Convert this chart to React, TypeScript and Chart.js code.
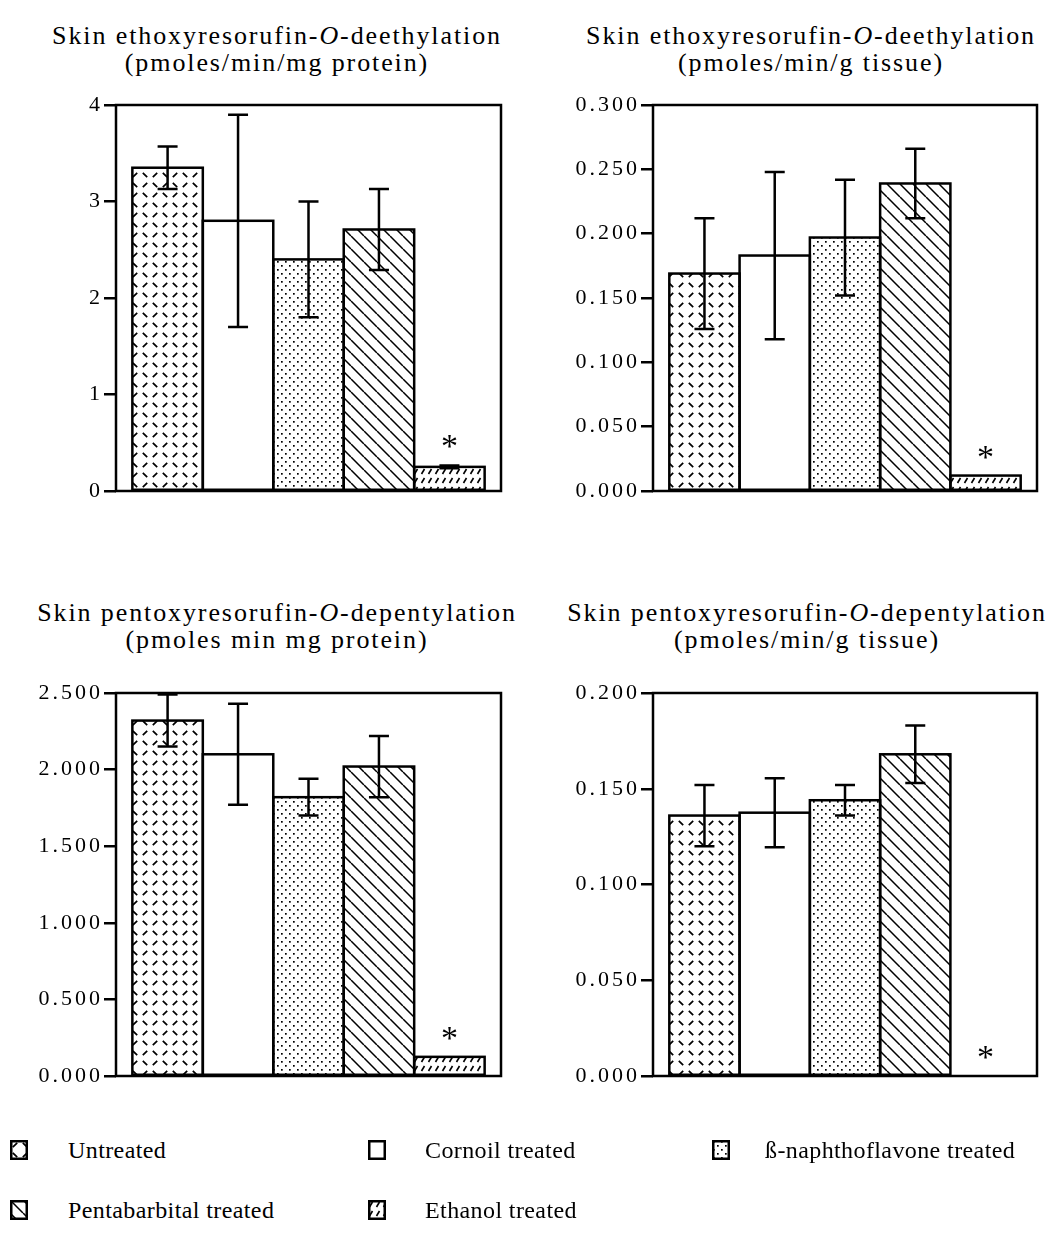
import React, { useEffect, useRef } from 'react';
import { Chart, registerables } from 'chart.js';

Chart.register(...registerables);

// ---------- data ----------
const TREATMENTS = [
  'Untreated',
  'Cornoil treated',
  'ß-naphthoflavone treated',
  'Pentabarbital treated',
  'Ethanol treated',
];
const PATTERN_KINDS = ['herring', 'blank', 'dots', 'diagonal', 'ethanol'];
const SIGNIFICANT = [false, false, false, false, true];

const EROD_PROTEIN_MEAN = [3.35, 2.8, 2.4, 2.71, 0.25];
const EROD_PROTEIN_ERR = [0.22, 1.1, 0.6, 0.42, 0.015];
const EROD_PROTEIN_TICKS = [0, 1, 2, 3, 4];
const EROD_PROTEIN_TICK_LABELS = ['0', '1', '2', '3', '4'];

const EROD_TISSUE_MEAN = [0.169, 0.183, 0.197, 0.239, 0.012];
const EROD_TISSUE_ERR = [0.043, 0.065, 0.045, 0.027, 0];
const EROD_TISSUE_TICKS = [0, 0.05, 0.1, 0.15, 0.2, 0.25, 0.3];
const EROD_TISSUE_TICK_LABELS = ['0.000', '0.050', '0.100', '0.150', '0.200', '0.250', '0.300'];

const PROD_PROTEIN_MEAN = [2.32, 2.1, 1.82, 2.02, 0.125];
const PROD_PROTEIN_ERR = [0.17, 0.33, 0.12, 0.2, 0];
const PROD_PROTEIN_TICKS = [0, 0.5, 1, 1.5, 2, 2.5];
const PROD_PROTEIN_TICK_LABELS = ['0.000', '0.500', '1.000', '1.500', '2.000', '2.500'];

const PROD_TISSUE_MEAN = [0.136, 0.1375, 0.144, 0.168, 0];
const PROD_TISSUE_ERR = [0.016, 0.018, 0.008, 0.015, 0];
const PROD_TISSUE_TICKS = [0, 0.05, 0.1, 0.15, 0.2];
const PROD_TISSUE_TICK_LABELS = ['0.000', '0.050', '0.100', '0.150', '0.200'];

const SERIF = '"Liberation Serif", "Times New Roman", serif';

// ---------- patterns ----------
function makePattern(kind: string): CanvasPattern | string {
  if (kind === 'blank') return '#ffffff';
  const c = document.createElement('canvas');
  let w = 20, h = 20;
  if (kind === 'dots') { w = 8; h = 8; }
  if (kind === 'diagonal') { w = 13; h = 13; }
  if (kind === 'ethanol') { w = 7; h = 9; }
  c.width = w; c.height = h;
  const ctx = c.getContext('2d')!;
  ctx.fillStyle = '#ffffff';
  ctx.fillRect(0, 0, w, h);
  ctx.strokeStyle = '#000';
  ctx.fillStyle = '#000';
  ctx.lineCap = 'butt';
  if (kind === 'herring') {
    ctx.lineWidth = 1.7;
    const d = 2.2;
    ctx.beginPath();
    ctx.moveTo(5 - d, 5 + d); ctx.lineTo(5 + d, 5 - d);
    ctx.moveTo(15 - d, 5 - d); ctx.lineTo(15 + d, 5 + d);
    ctx.moveTo(5 - d, 15 - d); ctx.lineTo(5 + d, 15 + d);
    ctx.moveTo(15 - d, 15 + d); ctx.lineTo(15 + d, 15 - d);
    ctx.stroke();
  } else if (kind === 'dots') {
    ctx.fillRect(1, 1, 1.7, 1.7);
    ctx.fillRect(5, 5, 1.7, 1.7);
  } else if (kind === 'diagonal') {
    ctx.lineWidth = 1.5;
    ctx.beginPath();
    for (const k of [-13, 0, 13]) {
      ctx.moveTo(k, 0); ctx.lineTo(k + 13, 13);
    }
    ctx.stroke();
  } else if (kind === 'ethanol') {
    ctx.lineWidth = 1.6;
    ctx.beginPath();
    ctx.moveTo(1.5, 7); ctx.lineTo(4.5, 2);
    ctx.stroke();
  }
  return ctx.createPattern(c, 'repeat')!;
}

// ---------- panel ----------
type PanelProps = {
  mean: number[];
  err: number[];
  ticks: number[];
  tickLabels: string[];
  left: number;
  top: number;
  width: number;
  height: number;
  axisWidth: number;
  padTop: number;
  padRight: number;
  padBottom: number;
};

function Panel(p: PanelProps) {
  const ref = useRef<HTMLCanvasElement | null>(null);
  useEffect(() => {
    if (!ref.current) return;
    const patterns = PATTERN_KINDS.map(makePattern);
    const overlay = {
      id: 'overlay',
      beforeDraw(chart: any) {
        chart.ctx.letterSpacing = '3px';
      },
      afterDatasetsDraw(chart: any) {
        const ctx = chart.ctx as CanvasRenderingContext2D;
        const y = chart.scales.y;
        ctx.save();
        ctx.letterSpacing = '0px';
        ctx.strokeStyle = '#000';
        ctx.fillStyle = '#000';
        chart.data.datasets.forEach((ds: any, i: number) => {
          const el: any = chart.getDatasetMeta(i).data[0];
          if (!el) return;
          const v = ds.data[0] as number;
          const half = el.width / 2;
          if (v > 0) {
            ctx.lineWidth = 2.5;
            ctx.strokeRect(el.x - half, el.y, el.width, el.base - el.y);
          }
          const e = p.err[i];
          if (e > 0) {
            const yt = y.getPixelForValue(v + e);
            const yb = y.getPixelForValue(v - e);
            ctx.lineWidth = 2.5;
            ctx.beginPath();
            ctx.moveTo(el.x, yt); ctx.lineTo(el.x, yb);
            ctx.moveTo(el.x - 10, yt); ctx.lineTo(el.x + 10, yt);
            ctx.moveTo(el.x - 10, yb); ctx.lineTo(el.x + 10, yb);
            ctx.stroke();
          }
          if (SIGNIFICANT[i]) {
            const yTop = y.getPixelForValue(v + e);
            ctx.font = `34px ${SERIF}`;
            ctx.textAlign = 'center';
            ctx.textBaseline = 'alphabetic';
            ctx.fillText('*', el.x, yTop - 8);
          }
        });
        ctx.restore();
      },
      afterDraw(chart: any) {
        const ctx = chart.ctx as CanvasRenderingContext2D;
        const a = chart.chartArea;
        ctx.save();
        ctx.strokeStyle = '#000';
        ctx.lineWidth = 2.5;
        ctx.strokeRect(a.left, a.top, a.right - a.left, a.bottom - a.top);
        ctx.restore();
      },
    };
    const chart = new Chart(ref.current, {
      type: 'bar',
      data: {
        labels: [''],
        datasets: TREATMENTS.map((t, i) => ({
          label: t,
          data: [p.mean[i]],
          backgroundColor: patterns[i] as any,
          borderWidth: 0,
          categoryPercentage: 0.915,
          barPercentage: 1,
        })),
      },
      options: {
        animation: false,
        responsive: false,
        devicePixelRatio: 1,
        layout: { padding: { top: p.padTop, right: p.padRight, bottom: p.padBottom, left: 0 } },
        plugins: {
          legend: { display: false },
          tooltip: { enabled: false },
          title: { display: false },
        },
        scales: {
          x: { display: false },
          y: {
            min: p.ticks[0],
            max: p.ticks[p.ticks.length - 1],
            afterBuildTicks: (s: any) => {
              s.ticks = p.ticks.map((v) => ({ value: v }));
            },
            afterFit: (s: any) => {
              s.width = p.axisWidth;
            },
            ticks: {
              callback: (_v: any, idx: number) => p.tickLabels[idx],
              color: '#000',
              padding: 1,
              font: { family: SERIF, size: 22 },
            },
            grid: {
              drawOnChartArea: false,
              drawTicks: true,
              tickLength: 12,
              lineWidth: 2.5,
              color: '#000',
            },
            border: { display: false },
          },
        },
      },
      plugins: [overlay],
    } as any);
    return () => chart.destroy();
  }, []);
  return (
    <canvas
      ref={ref}
      width={p.width}
      height={p.height}
      style={{ position: 'absolute', left: p.left, top: p.top, width: p.width, height: p.height }}
    />
  );
}

// ---------- titles / legend ----------
function Title({ cx, top, line1, line2 }: { cx: number; top: number; line1: React.ReactNode; line2: string }) {
  return (
    <div
      style={{
        position: 'absolute',
        left: cx - 260,
        width: 520,
        top,
        textAlign: 'center',
        fontFamily: SERIF,
        fontSize: 26,
        lineHeight: '27px',
        letterSpacing: '1.9px',
        color: '#000',
        whiteSpace: 'nowrap',
      }}
    >
      <div>{line1}</div>
      <div>{line2}</div>
    </div>
  );
}

function Swatch({ kind }: { kind: string }) {
  const ref = useRef<HTMLCanvasElement | null>(null);
  useEffect(() => {
    const c = ref.current;
    if (!c) return;
    const ctx = c.getContext('2d')!;
    ctx.fillStyle = makePattern(kind) as any;
    ctx.fillRect(0, 0, c.width, c.height);
    ctx.strokeStyle = '#000';
    ctx.lineWidth = 2.5;
    ctx.strokeRect(1.25, 1.25, c.width - 2.5, c.height - 2.5);
  }, []);
  return <canvas ref={ref} width={18} height={20} style={{ display: 'block' }} />;
}

function LegendItem({ i, x, y }: { i: number; x: number; y: number }) {
  const textX = [68, 425, 765][[0, 1, 2, 0, 1][i]];
  return (
    <div style={{ position: 'absolute', left: 0, top: y - 15, height: 30, width: 1048 }}>
      <div style={{ position: 'absolute', left: x, top: 5 }}>
        <Swatch kind={PATTERN_KINDS[i]} />
      </div>
      <div
        style={{
          position: 'absolute',
          left: textX,
          top: 0,
          lineHeight: '30px',
          fontFamily: SERIF,
          fontSize: 24,
          letterSpacing: '0.4px',
          color: '#000',
          whiteSpace: 'nowrap',
        }}
      >
        {TREATMENTS[i]}
      </div>
    </div>
  );
}

export default function App() {
  const erodTitle = (
    <>
      Skin ethoxyresorufin-<i>O</i>-deethylation
    </>
  );
  const prodTitle = (
    <>
      Skin pentoxyresorufin-<i>O</i>-depentylation
    </>
  );
  const legendPos = [
    { x: 10, y: 1150 },
    { x: 368, y: 1150 },
    { x: 712, y: 1150 },
    { x: 10, y: 1210 },
    { x: 368, y: 1210 },
  ];
  return (
    <div
      style={{
        position: 'absolute', left: 0, top: 0, width: 1048, height: 1250,
        background: '#fff', overflow: 'hidden',
      }}
    >
      <Title cx={277} top={22} line1={erodTitle} line2="(pmoles/min/mg protein)" />
      <Title cx={811} top={22} line1={erodTitle} line2="(pmoles/min/g tissue)" />
      <Title cx={277} top={599} line1={prodTitle} line2="(pmoles min mg protein)" />
      <Title cx={807} top={599} line1={prodTitle} line2="(pmoles/min/g tissue)" />

      <Panel
        mean={EROD_PROTEIN_MEAN} err={EROD_PROTEIN_ERR}
        ticks={EROD_PROTEIN_TICKS} tickLabels={EROD_PROTEIN_TICK_LABELS}
        left={0} top={80} width={520} height={432} axisWidth={116}
        padTop={25} padRight={19} padBottom={21}
      />
      <Panel
        mean={EROD_TISSUE_MEAN} err={EROD_TISSUE_ERR}
        ticks={EROD_TISSUE_TICKS} tickLabels={EROD_TISSUE_TICK_LABELS}
        left={536} top={80} width={512} height={432} axisWidth={117}
        padTop={25} padRight={11} padBottom={21}
      />
      <Panel
        mean={PROD_PROTEIN_MEAN} err={PROD_PROTEIN_ERR}
        ticks={PROD_PROTEIN_TICKS} tickLabels={PROD_PROTEIN_TICK_LABELS}
        left={0} top={668} width={520} height={430} axisWidth={116}
        padTop={25} padRight={19} padBottom={22}
      />
      <Panel
        mean={PROD_TISSUE_MEAN} err={PROD_TISSUE_ERR}
        ticks={PROD_TISSUE_TICKS} tickLabels={PROD_TISSUE_TICK_LABELS}
        left={536} top={668} width={512} height={430} axisWidth={117}
        padTop={25} padRight={11} padBottom={22}
      />

      {legendPos.map((pos, i) => (
        <LegendItem key={i} i={i} x={pos.x} y={pos.y} />
      ))}
    </div>
  );
}
